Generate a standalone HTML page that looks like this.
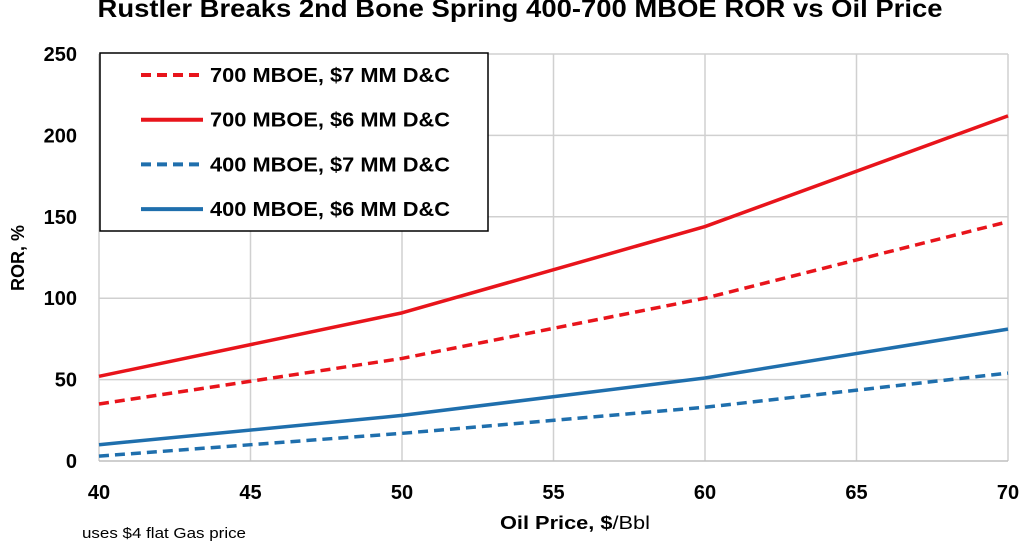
<!DOCTYPE html>
<html><head><meta charset="utf-8"><style>
body{margin:0;background:#fff;}
svg{display:block;font-family:"Liberation Sans",Arial,sans-serif;}
</style></head><body>
<svg id="chart" width="1035" height="544">
<text x="520" y="17" text-anchor="middle" font-size="25" font-weight="bold" textLength="845" lengthAdjust="spacingAndGlyphs">Rustler Breaks 2nd Bone Spring 400-700 MBOE ROR vs Oil Price</text>
<g id="grid"></g><g id="series"></g><g id="ticks"></g>
<text transform="translate(24,258) rotate(-90)" text-anchor="middle" font-size="18" font-weight="bold">ROR, %</text>
<text x="500" y="529" font-size="18" textLength="150" lengthAdjust="spacingAndGlyphs"><tspan font-weight="bold">Oil Price, $</tspan>/Bbl</text>
<text x="82" y="538" font-size="15" textLength="164" lengthAdjust="spacingAndGlyphs">uses $4 flat Gas price</text>
<g id="legend"></g>
</svg>
<script>
const xValues=[40,50,60,70];
const xTicks=[40,45,50,55,60,65,70];
const yTicks=[0,50,100,150,200,250];
const seriesNames=["700 MBOE, $7 MM D&C","700 MBOE, $6 MM D&C","400 MBOE, $7 MM D&C","400 MBOE, $6 MM D&C"];
const s700_7=[35,63,100,147];
const s700_6=[52,91,144,212];
const s400_7=[3,17,33,54];
const s400_6=[10,28,51,81];
const NS="http://www.w3.org/2000/svg";
const X0=99,X1=1008,Y0=461,Y1=54;
const xs=v=>X0+(v-40)/30*(X1-X0);
const ys=v=>Y0-v/250*(Y0-Y1);
function mk(t,a,p){const e=document.createElementNS(NS,t);for(const k in a)e.setAttribute(k,a[k]);p.appendChild(e);return e;}
const grid=document.getElementById('grid'),ticks=document.getElementById('ticks');
xTicks.forEach(v=>{const l=mk('line',{x1:xs(v),x2:xs(v),y1:Y1,y2:Y0,stroke:'#d0d0d0','stroke-width':1.5},grid);

const t=mk('text',{x:xs(v),y:499,'text-anchor':'middle','font-size':20,'font-weight':'bold'},ticks);t.textContent=v;
});
yTicks.forEach(v=>{const l=mk('line',{x1:X0,x2:X1,y1:ys(v),y2:ys(v),stroke:v==0?'#bfbfbf':'#d0d0d0','stroke-width':1.5},grid);

const t=mk('text',{x:77,y:ys(v)+7,'text-anchor':'end','font-size':20,'font-weight':'bold'},ticks);t.textContent=v;
});
const styles=[{c:'#e8141b',d:'10,6'},{c:'#e8141b',d:''},{c:'#1f6fad',d:'10,6'},{c:'#1f6fad',d:''}];
const data=[s700_7,s700_6,s400_7,s400_6];
const sg=document.getElementById('series');
data.forEach((arr,i)=>{const pts=arr.map((v,j)=>xs(xValues[j])+','+ys(v)).join(' ');
const p=mk('polyline',{points:pts,fill:'none',stroke:styles[i].c,'stroke-width':3.5,'stroke-dasharray':styles[i].d,'stroke-linejoin':'round'},sg);
});
const lg=document.getElementById('legend');
const box=mk('rect',{x:100,y:53,width:388,height:178,fill:'#fff',stroke:'#000','stroke-width':1.5},lg);

seriesNames.forEach((n,i)=>{const y=75+i*44.7;
const l=mk('line',{x1:141,x2:203,y1:y,y2:y,stroke:styles[i].c,'stroke-width':4,'stroke-dasharray':styles[i].d},lg);

const t=mk('text',{x:210,y:y+7,'font-size':20,'font-weight':'bold',textLength:240,lengthAdjust:'spacingAndGlyphs'},lg);t.textContent=n;
});
</script>
</body></html>
